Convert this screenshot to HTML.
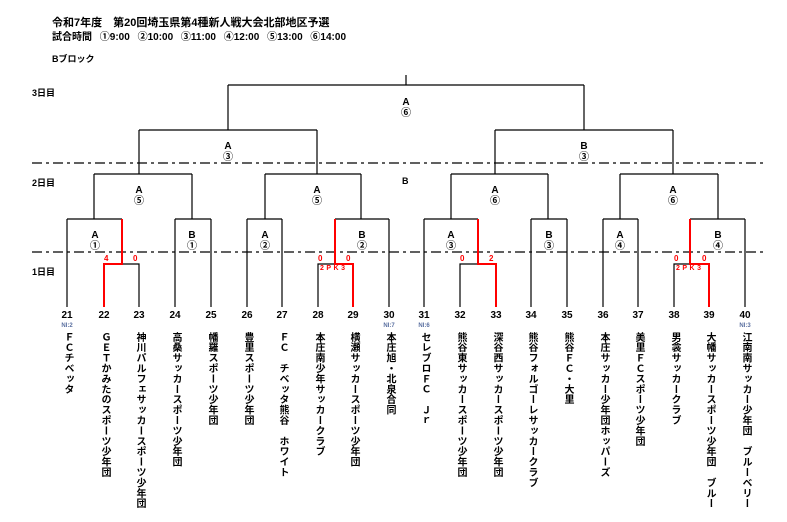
<!DOCTYPE html>
<html><head><meta charset="utf-8"><style>
body{margin:0;background:#fff;}
#w{position:relative;width:787px;height:522px;overflow:hidden;font-family:"Liberation Sans","Noto Sans CJK JP",sans-serif;font-weight:bold;color:#000;}
.t{position:absolute;white-space:nowrap;}
.n{position:absolute;width:30px;text-align:center;font-size:10px;top:310px;}
.ni{position:absolute;width:30px;text-align:center;font-size:6px;top:323px;color:#5a6fa0;}
.v{position:absolute;top:332px;writing-mode:vertical-rl;font-size:10px;line-height:12px;letter-spacing:0.4px;width:12px;}
.l{position:absolute;width:30px;text-align:center;font-size:10px;line-height:11px;}
.r{position:absolute;color:#f00;font-size:8px;}
</style></head><body><div id="w">
<svg width="787" height="522" style="position:absolute;left:0;top:0" fill="none" stroke="#000" stroke-width="1.2">
<line x1="32" y1="163" x2="765" y2="163" stroke-dasharray="10,4,3,4"/>
<line x1="32" y1="252" x2="765" y2="252" stroke-dasharray="10,4,3,4"/>
<path d="M406 75V85M228 85H584M228 85V130M584 85V130"/>
<path d="M139 130H317M139 130V174M317 130V174M495 130H673M495 130V174M673 130V174"/>
<path d="M94 174H192M94 174V219M192 174V219M265 174H361M265 174V219M361 174V219"/>
<path d="M451 174H548M451 174V219M548 174V219M620 174H718M620 174V219M718 174V219"/>
<path d="M67 219H122M67 219V307M122 264H139V307"/>
<path d="M175 219H211M175 219V307M211 219V307"/>
<path d="M247 219H282M247 219V307M282 219V307"/>
<path d="M335 219H389M389 219V307M318 307V264H335"/>
<path d="M424 219H478M424 219V307M460 307V264H478"/>
<path d="M531 219H567M531 219V307M567 219V307"/>
<path d="M603 219H638M603 219V307M638 219V307"/>
<path d="M690 219H745M745 219V307M674 307V264H690"/>
<g stroke="#f00" stroke-width="2">
<path d="M122 219V264H104V307"/>
<path d="M335 219V264H353V307"/>
<path d="M478 219V264H496V307"/>
<path d="M690 219V264H709V307"/>
</g>
</svg>
<div class="t" style="left:52px;top:14px;font-size:11px;">令和7年度　第20回埼玉県第4種新人戦大会北部地区予選</div>
<div class="t" style="left:52px;top:28px;font-size:10px;word-spacing:5px;">試合時間 ①9:00 ②10:00 ③11:00 ④12:00 ⑤13:00 ⑥14:00</div>
<div class="t" style="left:52px;top:52px;font-size:9px;">Bブロック</div>
<div class="t" style="left:32px;top:86px;font-size:9px;">3日目</div>
<div class="t" style="left:32px;top:176px;font-size:9px;">2日目</div>
<div class="t" style="left:32px;top:265px;font-size:9px;">1日目</div>
<div class="t" style="left:402px;top:176px;font-size:9px;">B</div>
<div class="l" style="left:391px;top:97px">A<br>⑥</div>
<div class="l" style="left:213px;top:141px">A<br>③</div>
<div class="l" style="left:569px;top:141px">B<br>③</div>
<div class="l" style="left:124px;top:185px">A<br>⑤</div>
<div class="l" style="left:302px;top:185px">A<br>⑤</div>
<div class="l" style="left:480px;top:185px">A<br>⑥</div>
<div class="l" style="left:658px;top:185px">A<br>⑥</div>
<div class="l" style="left:80px;top:230px">A<br>①</div>
<div class="l" style="left:177px;top:230px">B<br>①</div>
<div class="l" style="left:250px;top:230px">A<br>②</div>
<div class="l" style="left:347px;top:230px">B<br>②</div>
<div class="l" style="left:436px;top:230px">A<br>③</div>
<div class="l" style="left:534px;top:230px">B<br>③</div>
<div class="l" style="left:605px;top:230px">A<br>④</div>
<div class="l" style="left:703px;top:230px">B<br>④</div>
<div class="r" style="left:104px;top:254px">4</div><div class="r" style="left:133px;top:254px">0</div>
<div class="r" style="left:318px;top:254px">0</div><div class="r" style="left:346px;top:254px">0</div>
<div class="r" style="left:320px;top:265px;font-size:7px;letter-spacing:2.5px">2PK3</div>
<div class="r" style="left:460px;top:254px">0</div><div class="r" style="left:489px;top:254px">2</div>
<div class="r" style="left:674px;top:254px">0</div><div class="r" style="left:702px;top:254px">0</div>
<div class="r" style="left:676px;top:265px;font-size:7px;letter-spacing:2.5px">2PK3</div>
<div class="n" style="left:52px">21</div><div class="n" style="left:89px">22</div><div class="n" style="left:124px">23</div><div class="n" style="left:160px">24</div><div class="n" style="left:196px">25</div><div class="n" style="left:232px">26</div><div class="n" style="left:267px">27</div><div class="n" style="left:303px">28</div><div class="n" style="left:338px">29</div><div class="n" style="left:374px">30</div>
<div class="n" style="left:409px">31</div><div class="n" style="left:445px">32</div><div class="n" style="left:481px">33</div><div class="n" style="left:516px">34</div><div class="n" style="left:552px">35</div><div class="n" style="left:588px">36</div><div class="n" style="left:623px">37</div><div class="n" style="left:659px">38</div><div class="n" style="left:694px">39</div><div class="n" style="left:730px">40</div>
<div class="ni" style="left:52px">NI:2</div><div class="ni" style="left:374px">NI:7</div><div class="ni" style="left:409px">NI:6</div><div class="ni" style="left:730px">NI:3</div>
<div class="v" style="left:61px">ＦＣチベッタ</div>
<div class="v" style="left:98px">ＧＥＴかみたのスポーツ少年団</div>
<div class="v" style="left:133px">神川パルフェサッカースポーツ少年団</div>
<div class="v" style="left:169px">高桑サッカースポーツ少年団</div>
<div class="v" style="left:205px">幡羅スポーツ少年団</div>
<div class="v" style="left:241px">豊里スポーツ少年団</div>
<div class="v" style="left:276px">ＦＣ　チベッタ熊谷　ホワイト</div>
<div class="v" style="left:312px">本庄南少年サッカークラブ</div>
<div class="v" style="left:347px">横瀬サッカースポーツ少年団</div>
<div class="v" style="left:383px">本庄旭・北泉合同</div>
<div class="v" style="left:418px">セレブロＦＣ　Ｊｒ</div>
<div class="v" style="left:454px">熊谷東サッカースポーツ少年団</div>
<div class="v" style="left:490px">深谷西サッカースポーツ少年団</div>
<div class="v" style="left:525px">熊谷フォルゴーレサッカークラブ</div>
<div class="v" style="left:561px">熊谷ＦＣ・大里</div>
<div class="v" style="left:597px">本庄サッカー少年団ホッパーズ</div>
<div class="v" style="left:632px">美里ＦＣスポーツ少年団</div>
<div class="v" style="left:668px">男衾サッカークラブ</div>
<div class="v" style="left:703px">大幡サッカースポーツ少年団　ブルー</div>
<div class="v" style="left:739px">江南南サッカー少年団　ブルーベリー</div>
</div></body></html>
